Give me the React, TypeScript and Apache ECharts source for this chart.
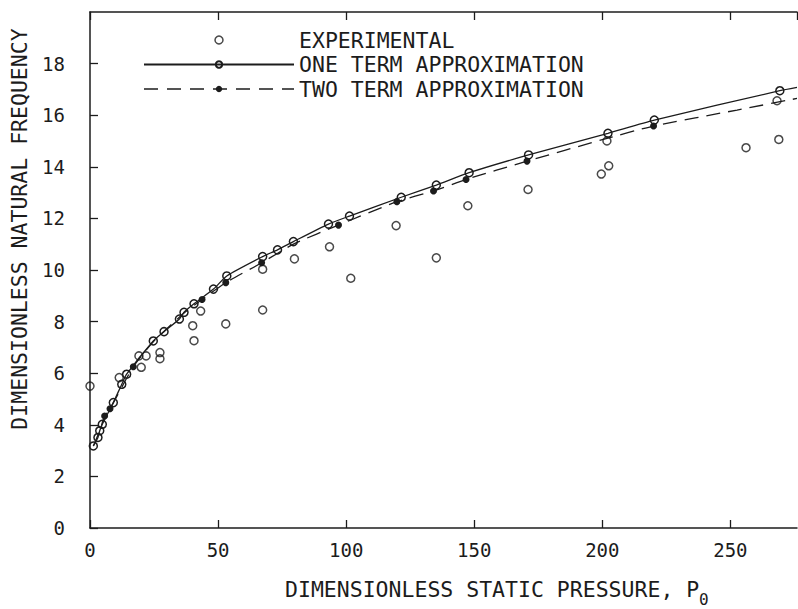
import React, { useEffect, useRef } from "react";
import * as echarts from "echarts";

// ---- Data ----
const xTicks = [0, 50, 100, 150, 200, 250];
const yTicks = [0, 2, 4, 6, 8, 10, 12, 14, 16, 18];

const experimental: [number, number][] = [
  [0, 5.5], [11.4, 5.83], [19.1, 6.67], [20, 6.23], [21.9, 6.67], [27.3, 6.8],
  [27.3, 6.56], [40.1, 7.84], [40.6, 7.26], [43.2, 8.41], [53, 7.91], [67.4, 8.45],
  [67.4, 10.03], [79.8, 10.43], [93.5, 10.9], [101.8, 9.68], [119.5, 11.72],
  [135.2, 10.47], [147.5, 12.49], [171, 13.12], [199.6, 13.72], [202.5, 14.04],
  [201.8, 15.0], [256.1, 14.74], [268.9, 15.06], [268.2, 16.56],
];

const oneTermMarked: [number, number][] = [
  [1.3, 3.18], [3.1, 3.51], [3.8, 3.77], [4.8, 4.02], [9.1, 4.86], [12.4, 5.57],
  [14.3, 5.96], [24.7, 7.25], [28.9, 7.61], [34.9, 8.1], [36.7, 8.36], [40.6, 8.69],
  [48.2, 9.26], [53.4, 9.77], [67.4, 10.52], [73.2, 10.78], [79.4, 11.1],
  [93.1, 11.78], [101.3, 12.09], [121.5, 12.82], [135.2, 13.29], [148, 13.77],
  [171.2, 14.46], [202.2, 15.3], [220.3, 15.81], [269.3, 16.95],
];
const oneTermTail: [number, number][] = [[276, 17.08]];

const twoTermMarked: [number, number][] = [
  [5.7, 4.34], [7.8, 4.62], [16.9, 6.25], [43.75, 8.86], [53, 9.51], [67, 10.28],
  [97, 11.74], [119.8, 12.65], [134.1, 13.06], [146.8, 13.51], [170.6, 14.22],
  [220, 15.58],
];
const twoTermCurve: [number, number][] = [
  [1.3, 3.18], [3.8, 3.77], [24.7, 7.22], [36.7, 8.33], [80, 11.03], [200, 15.05],
  [252.6, 16.2], [276, 16.65],
];

const FONT = '"DejaVu Sans Mono", monospace';
const INK = "#1c1c1c";

export default function App() {
  const ref = useRef<HTMLDivElement>(null);

  useEffect(() => {
    if (!ref.current) return;
    const chart = echarts.init(ref.current, undefined, { renderer: "svg" });

    const oneTermData = [
      ...oneTermMarked.map((p) => ({ value: p })),
      ...oneTermTail.map((p) => ({ value: p, symbol: "none" })),
    ];
    const twoTermData = [
      ...twoTermMarked.map((p) => ({ value: p })),
      ...twoTermCurve.map((p) => ({ value: p, symbol: "none" })),
    ].sort((a, b) => a.value[0] - b.value[0]);

    const xMin = xTicks[0];
    const xMax = 276;
    const yMin = yTicks[0];
    const yMax = 20;

    chart.setOption({
      animation: false,
      backgroundColor: "#fff",
      grid: { left: 90, right: 1, top: 12, bottom: 81, containLabel: false },
      legend: {
        orient: "vertical",
        left: 143,
        top: 29,
        padding: 0,
        itemWidth: 150,
        itemHeight: 8,
        itemGap: 2.5,
        symbolKeepAspect: true,
        data: [
          { name: "EXPERIMENTAL", itemStyle: { color: "rgba(255,255,255,0)", borderColor: INK, borderWidth: 1.5 } },
          { name: "ONE TERM APPROXIMATION" },
          { name: "TWO TERM APPROXIMATION", lineStyle: { type: [14, 9], width: 1.3, color: INK } },
        ],
        textStyle: { fontFamily: FONT, fontSize: 21.5, lineHeight: 22, color: INK },
      },
      xAxis: [
        {
          type: "value",
          min: xMin,
          max: xMax,
          interval: 50,
          position: "bottom",
          axisLine: { show: true, onZero: false, lineStyle: { color: INK, width: 1.5 } },
          axisTick: { show: true, inside: true, length: 8, lineStyle: { color: INK, width: 1.3 } },
          axisLabel: {
            show: true,
            showMaxLabel: false,
            margin: 12,
            fontFamily: FONT,
            fontSize: 19,
            color: INK,
          },
          splitLine: { show: false },
        },
        {
          type: "value",
          min: xMin,
          max: xMax,
          interval: 50,
          position: "top",
          axisLine: { show: true, onZero: false, lineStyle: { color: INK, width: 1.5 } },
          axisTick: { show: true, inside: true, length: 8, lineStyle: { color: INK, width: 1.3 } },
          axisLabel: { show: false },
          splitLine: { show: false },
        },
      ],
      yAxis: {
        type: "value",
        min: yMin,
        max: yMax,
        interval: 2,
        axisLine: { show: true, onZero: false, lineStyle: { color: INK, width: 1.5 } },
        axisTick: { show: true, inside: true, length: 8, lineStyle: { color: INK, width: 1.3 } },
        axisLabel: {
          show: true,
          showMaxLabel: false,
          margin: 25,
          fontFamily: FONT,
          fontSize: 19,
          color: INK,
        },
        splitLine: { show: false },
      },
      series: [
        {
          name: "EXPERIMENTAL",
          type: "scatter",
          data: experimental,
          symbol: "circle",
          symbolSize: 8,
          itemStyle: { color: "rgba(255,255,255,0)", borderColor: INK, borderWidth: 1.5 },
          z: 5,
        },
        {
          name: "ONE TERM APPROXIMATION",
          type: "line",
          data: oneTermData,
          symbol: "circle",
          symbolSize: 8,
          smooth: 0.2,
          lineStyle: { color: INK, width: 1.3, type: "solid" },
          itemStyle: { color: "rgba(255,255,255,0)", borderColor: INK, borderWidth: 1.5 },
          z: 4,
        },
        {
          name: "TWO TERM APPROXIMATION",
          type: "line",
          data: twoTermData,
          symbol: "circle",
          symbolSize: 7,
          smooth: 0.2,
          lineStyle: { color: INK, width: 1.3, type: [14, 8] },
          itemStyle: { color: INK, borderColor: INK, borderWidth: 0 },
          z: 3,
        },
      ],
      graphic: [
        {
          type: "text",
          x: 285,
          y: 589,
          style: {
            text: "DIMENSIONLESS STATIC PRESSURE, P",
            font: `21.5px ${FONT}`,
            fill: INK,
            align: "left",
            verticalAlign: "middle",
          },
        },
        {
          type: "text",
          x: 699,
          y: 599,
          style: {
            text: "0",
            font: `16px ${FONT}`,
            fill: INK,
            align: "left",
            verticalAlign: "middle",
          },
        },
        {
          type: "text",
          x: 19,
          y: 229,
          rotation: Math.PI / 2,
          style: {
            text: "DIMENSIONLESS NATURAL FREQUENCY",
            font: `21.5px ${FONT}`,
            fill: INK,
            align: "center",
            verticalAlign: "middle",
          },
        },
      ],
    });

    return () => chart.dispose();
  }, []);

  return (
    <div
      ref={ref}
      style={{ position: "absolute", left: 0, top: 0, width: 798, height: 609, background: "#fff" }}
    />
  );
}
